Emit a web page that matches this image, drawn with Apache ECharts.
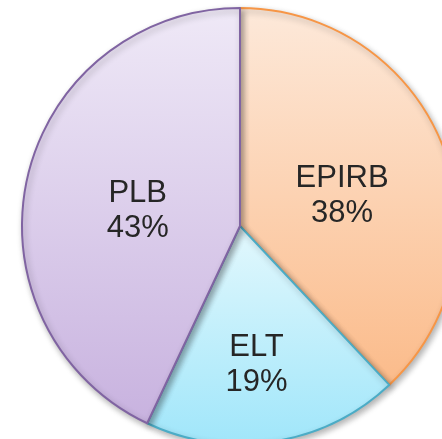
<!DOCTYPE html>
<html><head><meta charset="utf-8">
<script src="https://cdn.jsdelivr.net/npm/echarts@6/dist/echarts.min.js"></script>
<style>html,body{margin:0;padding:0;background:#fff}#c{width:442px;height:439px}</style>
</head><body><div id="c"></div>
<script>
const categories = ['EPIRB', 'ELT', 'PLB'];
const values = [38, 19, 43];
const topColors = ['#fde9da', '#e3f8fd', '#efe9f7'];
const bottomColors = ['#fbbb8a', '#a0e6fa', '#c8b2df'];
const borderColors = ['#f79646', '#4bacc6', '#8064a2'];
const labelOffsets = [[-2, 11], [-1, 28], [7, 9]];

const chart = echarts.init(document.getElementById('c'));
chart.setOption({
  animation: false,
  series: [{
    type: 'pie',
    center: [240, 226],
    radius: [0, 218],
    startAngle: 90,
    clockwise: true,
    label: {
      position: 'inside',
      formatter: p => p.name + '\n' + p.value + '%',
      fontFamily: 'Liberation Sans, Arial, sans-serif',
      fontSize: 31,
      lineHeight: 35,
      color: '#262626'
    },
    labelLine: { show: false },
    emphasis: { disabled: true },
    data: categories.map((c, i) => ({
      name: c,
      value: values[i],
      label: { offset: labelOffsets[i] },
      itemStyle: {
        color: new echarts.graphic.LinearGradient(0, 0, 0, 1, [
          { offset: 0, color: topColors[i] },
          { offset: 1, color: bottomColors[i] }
        ]),
        borderColor: borderColors[i],
        borderWidth: 2,
        shadowBlur: 6,
        shadowOffsetX: 2,
        shadowOffsetY: 3,
        shadowColor: 'rgba(0,0,0,0.3)'
      }
    }))
  }]
});
</script></body></html>
